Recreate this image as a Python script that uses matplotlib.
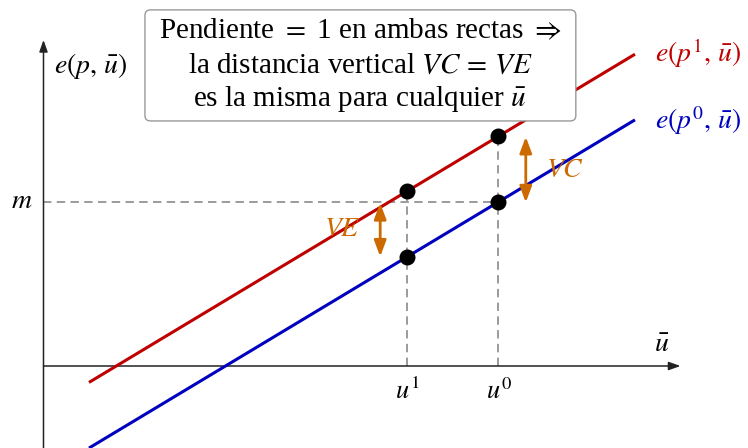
import numpy as np
import matplotlib
matplotlib.use("Agg")
import matplotlib.pyplot as plt
from matplotlib.patches import FancyBboxPatch

plt.rcParams['font.family'] = ['Liberation Serif', 'DejaVu Serif']
plt.rcParams['mathtext.fontset'] = 'stix'

# expenditure functions, both with slope 1
u_range = [0.5, 6.5]
b0 = -2.0   # intercept of e(p0, u)
b1 = -0.8   # intercept of e(p1, u)
u1 = 4.0
u0 = 5.0
m = u0 + b0

RED = '#bf0000'
BLUE = '#0000bf'
ORANGE = '#cc6a00'
GRAY = '#808080'

fig = plt.figure(figsize=(7.48, 4.48), dpi=100)
ax = fig.add_axes([0, 0, 1, 1])
ax.set_xlim(-0.478, 7.742)
ax.set_ylim(-1.499, 6.691)
ax.axis('off')

# axes with arrow tips
axis_kw = dict(arrowstyle='-|>,head_length=0.7,head_width=0.25', color='#222222',
               lw=1.1, shrinkA=0, shrinkB=0, mutation_scale=10)
ax.annotate('', xy=(7.0, 0), xytext=(0, 0), arrowprops=axis_kw)
ax.annotate('', xy=(0, 5.96), xytext=(0, -1.6), arrowprops=axis_kw)

# the two lines
uu = np.array(u_range)
ax.plot(uu, uu + b1, color=RED, lw=2.2, solid_capstyle='butt', zorder=3)
ax.plot(uu, uu + b0, color=BLUE, lw=2.2, solid_capstyle='butt', zorder=3)

# guides
dash = dict(color=GRAY, lw=1.1, ls=(0, (5.5, 3.5)), zorder=2)
ax.plot([0, u0], [m, m], **dash)
ax.plot([u1, u1], [0, u1 + b1], **dash)
ax.plot([u0, u0], [0, u0 + b1], **dash)

# points
ax.plot([u1, u1, u0, u0], [u1 + b1, u1 + b0, u0 + b1, u0 + b0], 'o',
        color='black', ms=11.5, mew=0, zorder=5)

# vertical distances
arr_kw = dict(arrowstyle='<|-|>,head_length=0.8,head_width=0.3', color=ORANGE,
              lw=2.0, shrinkA=0, shrinkB=0, mutation_scale=12)
ax.annotate('', xy=(3.70, 2.0), xytext=(3.70, 2.98), arrowprops=arr_kw, zorder=4)
ax.annotate('', xy=(5.30, 2.99), xytext=(5.30, 4.19), arrowprops=arr_kw, zorder=4)
ax.text(3.28, 2.5, r'$VE$', color=ORANGE, fontsize=20, ha='center', va='center')
ax.text(5.73, 3.58, r'$VC$', color=ORANGE, fontsize=20, ha='center', va='center')

# labels
fs = 20
ax.text(0.12, 5.48, r'$e(p,\,\bar{u})$', fontsize=fs, ha='left', va='center')
ax.text(-0.12, m, r'$m$', fontsize=fs, ha='right', va='center')
ax.text(6.79, 0.37, r'$\bar{u}$', fontsize=fs, ha='center', va='center')
ax.text(u1, -0.45, r'$u^1$', fontsize=19, ha='center', va='center')
ax.text(u0, -0.45, r'$u^0$', fontsize=19, ha='center', va='center')
ax.text(6.72, 5.72, r'$e(p^1,\,\bar{u})$', fontsize=fs, color=RED, ha='left', va='center')
ax.text(6.72, 4.48, r'$e(p^0,\,\bar{u})$', fontsize=fs, color=BLUE, ha='left', va='center')

# note box
box = FancyBboxPatch((1.115, 4.48), 5.85 - 1.115, 6.51 - 4.48,
                     boxstyle='round,pad=0,rounding_size=0.06',
                     mutation_aspect=1.66, fc='white', ec='#999999', lw=1.0, zorder=6)
ax.add_patch(box)
note = ['Pendiente $=$ 1 en ambas rectas $\\Rightarrow$',
        'la distancia vertical $VC\\,=\\,VE$',
        'es la misma para cualquier $\\bar{u}$']
for i, line in enumerate(note):
    ax.text(3.48, 6.11 - i * 0.615, line, fontsize=21, ha='center', va='center', zorder=7)

fig.savefig('out.png', dpi=100)
